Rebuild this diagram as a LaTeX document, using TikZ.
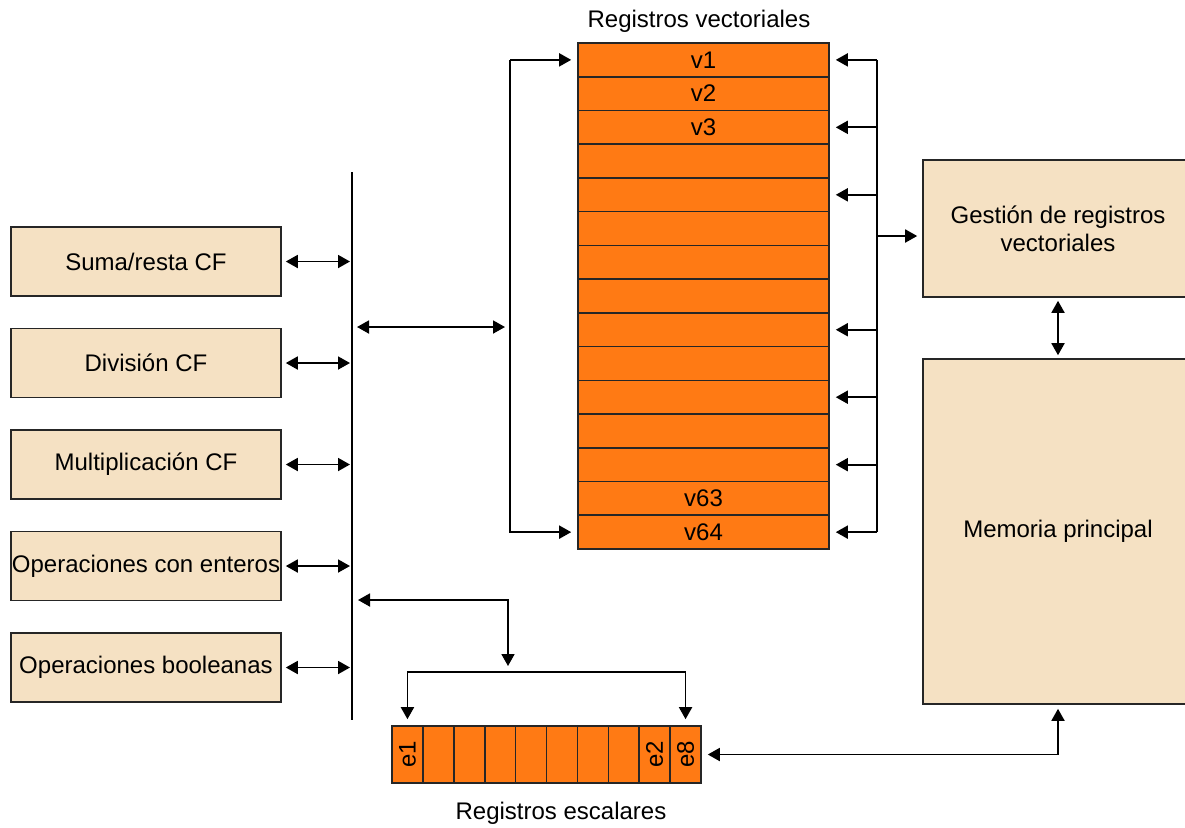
\documentclass[tikz,border=0pt]{standalone}
\usepackage{fontspec}
\setmainfont{Liberation Sans}
\usepackage{graphicx}
\usetikzlibrary{arrows.meta,calc}
\definecolor{regor}{HTML}{FF7A14}
\definecolor{beige}{HTML}{F5E1C3}
\begin{document}
\begin{tikzpicture}[x=0.5pt,y=-0.5pt,
  font=\fontsize{12}{14}\selectfont,
  unitbox/.style={draw=black!85, line width=0.8pt, fill=beige, inner sep=0pt, align=center},
  vreg/.style={draw=black!85, line width=0.8pt, fill=regor, minimum width=125.5pt, minimum height=16.867pt, inner sep=0pt},
  sreg/.style={draw=black!85, line width=0.8pt, fill=regor, minimum width=15.45pt, minimum height=28.5pt, inner sep=0pt},
  conn/.style={line width=0.9pt},
  tip/.tip={Triangle[length=6pt,width=6.5pt]},
  arr/.style={conn, -tip, shorten >=3pt},
  darr/.style={conn, tip-tip},
]
\useasboundingbox (0,0) rectangle (1185,827);

% vector registers
\foreach \i/\t in {1/v1,2/v2,3/v3,4/,5/,6/,7/,8/,9/,10/,11/,12/,13/,14/v63,15/v64}
  \node[vreg] (r\i) at (703.5,{43+(\i-0.5)*33.733}) {\t};
\node (vtitle) at (699,21) {Registros vectoriales};

% right-side distribution bus
\coordinate (rbx) at (877,0);
\draw[conn] (r1 -| rbx) -- (r15 -| rbx);
\foreach \i in {1,3,5,9,11,13,15}
  \draw[arr] (r\i -| rbx) -- (r\i.east);

% management and memory
\node[unitbox, minimum width=135pt, minimum height=68.5pt] (gest) at (1058,228.5) {Gestión de registros\\vectoriales};
\node[unitbox, minimum width=135pt, minimum height=172.5pt] (mem) at (1058,531.5) {Memoria principal};
\coordinate (g236) at (0,236);
\draw[arr, shorten >=2.5pt] (rbx |- g236) -- (gest.west |- g236);
\draw[darr, shorten <=1.5pt, shorten >=1.5pt] (gest.south) -- (mem.north);

% left-side bracket to vector registers
\coordinate (lvx) at (510,0);
\draw[arr] (r1 -| lvx) -- (r1.west);
\draw[arr] (r1 -| lvx) -- (r15 -| lvx) -- (r15.west);

% main bus
\coordinate (busT) at (352,172);
\coordinate (busB) at (352,720);
\draw[conn] (busT) -- (busB);
\coordinate (b327) at (0,327);
\draw[darr, shorten <=2.5pt, shorten >=2.5pt] (busT |- b327) -- (lvx |- b327);

% functional units
\foreach \i/\t/\y in {1/Suma\slash resta CF/261.5, 2/División CF/363, 3/Multiplicación CF/464.5, 4/Operaciones con enteros/566, 5/Operaciones booleanas/667.5}
{
  \node[unitbox, minimum width=135pt, minimum height=34.5pt] (f\i) at (146,\y) {\t};
  \draw[darr, shorten <=2pt, shorten >=1pt] (f\i.east) -- (f\i.east -| busT);
}

% scalar registers
\foreach \i/\t in {1/e1,2/,3/,4/,5/,6/,7/,8/,9/e2,10/e8}
  \node[sreg] (e\i) at ({392+(\i-0.5)*30.9},754.5) {\rotatebox{90}{\t}};
\node (stitle) at (561,813) {Registros escalares};

\coordinate (s600) at (508,600);
\coordinate (sbr) at (508,672);
\draw[darr, shorten <=3pt, shorten >=3pt] (busT |- s600) -- (s600) -- (sbr);
\draw[arr] (sbr) -| (e1.north);
\draw[arr] (sbr) -| (e10.north);

% memory to scalar registers
\draw[darr, shorten <=3pt, shorten >=2pt] (e10.east) -| (mem.south);
\end{tikzpicture}
\end{document}
